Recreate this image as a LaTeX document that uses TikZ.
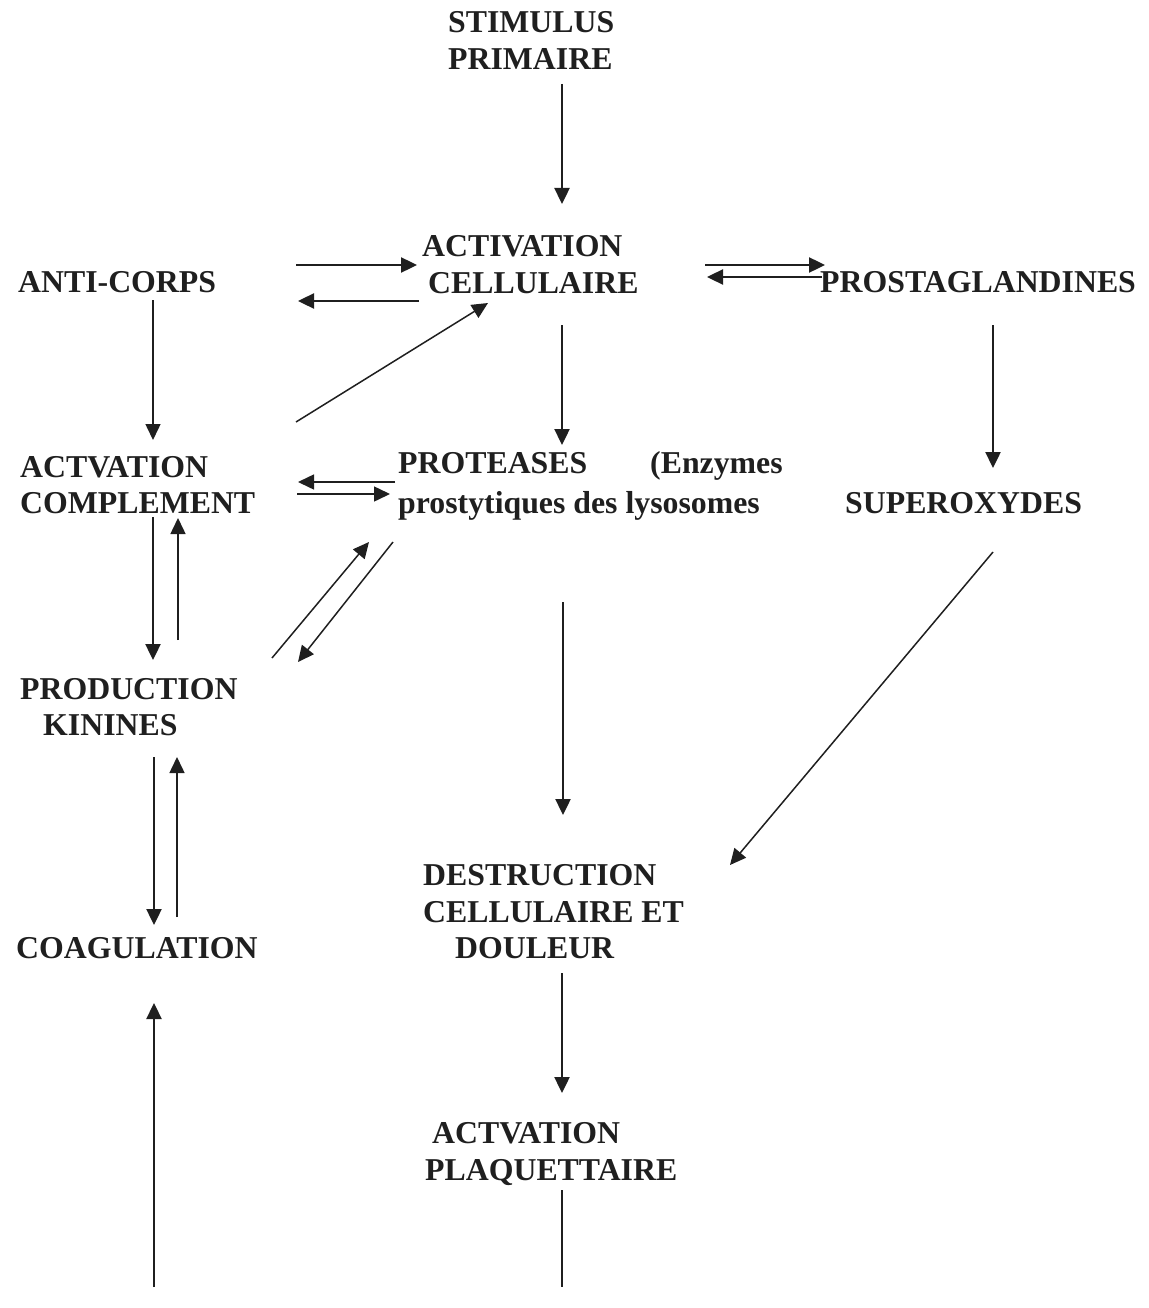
\documentclass[tikz,border=0pt]{standalone}
\usepackage{fontspec}
\setmainfont{Liberation Serif}
\usetikzlibrary{arrows.meta}
\begin{document}
\begin{tikzpicture}[x=1pt,y=-1pt,
  lbl/.style={anchor=base west,inner sep=0pt,font=\fontsize{31.8}{37}\selectfont\bfseries,text=black!88},
  thk/.style={line width=2.4pt,draw=black!88,-{Triangle[length=16pt,width=15pt]}},
  thn/.style={line width=1.5pt,draw=black!88,-{Triangle[length=16pt,width=15pt]}},
  plain/.style={line width=2.4pt,draw=black!88}]
\useasboundingbox (0,0) rectangle (1148,1308);
% text lines
\node[lbl] (stimA) at (448,33) {STIMULUS};
\node[lbl] (stimB) at (448,70) {PRIMAIRE};
\node[lbl] (actA) at (422,256) {ACTIVATION};
\node[lbl] (actB) at (428,293) {CELLULAIRE};
\node[lbl] (anti) at (18,292) {ANTI-CORPS};
\node[lbl] (prost) at (820,292) {PROSTAGLANDINES};
\node[lbl] (compA) at (20,477) {ACTVATION};
\node[lbl] (compB) at (20,513) {COMPLEMENT};
\node[lbl] (protA) at (398,473) {PROTEASES};
\node[lbl] (protC) at (650,473) {(Enzymes};
\node[lbl] (protB) at (398,513) {prostytiques des lysosomes};
\node[lbl] (sup) at (845,513) {SUPEROXYDES};
\node[lbl] (kinA) at (20,699) {PRODUCTION};
\node[lbl] (kinB) at (43,735) {KININES};
\node[lbl] (coag) at (16,958) {COAGULATION};
\node[lbl] (desA) at (423,885) {DESTRUCTION};
\node[lbl] (desB) at (423,922) {CELLULAIRE ET};
\node[lbl] (desC) at (455,958) {DOULEUR};
\node[lbl] (plaA) at (432,1143) {ACTVATION};
\node[lbl] (plaB) at (425,1180) {PLAQUETTAIRE};
% connector end points
\coordinate (stimOut) at (562,84);   \coordinate (actTop) at (562,204);
\coordinate (antiR1) at (296,265);   \coordinate (actL1) at (417,265);
\coordinate (actL2) at (419,301);    \coordinate (antiR2) at (298,301);
\coordinate (actR1) at (705,265);    \coordinate (prostL1) at (825,265);
\coordinate (prostL2) at (822,277);  \coordinate (actR2) at (707,277);
\coordinate (antiOut) at (153,300);  \coordinate (compTop) at (153,440);
\coordinate (compNE) at (296,422);   \coordinate (actSW) at (488,303);
\coordinate (actOut) at (562,325);   \coordinate (protTop) at (562,445);
\coordinate (prostOut) at (993,325); \coordinate (supTop) at (993,468);
\coordinate (protL1) at (395,482);   \coordinate (compR1) at (298,482);
\coordinate (compR2) at (297,494);   \coordinate (protL2) at (390,494);
\coordinate (compOut) at (153,517);  \coordinate (kinTop) at (153,660);
\coordinate (kinUp) at (178,640);    \coordinate (compIn) at (178,518);
\coordinate (kinNE1) at (272,658);   \coordinate (protSW1) at (369,542);
\coordinate (protSW2) at (393,542);  \coordinate (kinNE2) at (298,662);
\coordinate (protOut) at (563,602);  \coordinate (desTop) at (563,815);
\coordinate (supOut) at (993,552);   \coordinate (desNE) at (730,865);
\coordinate (kinOut) at (154,757);   \coordinate (coagTop) at (154,925);
\coordinate (coagUp) at (177,917);   \coordinate (kinIn) at (177,757);
\coordinate (botL) at (154,1287);    \coordinate (coagBot) at (154,1003);
\coordinate (desOut) at (562,973);   \coordinate (plaTop) at (562,1093);
\coordinate (plaOut) at (562,1190);  \coordinate (botR) at (562,1287);
% connectors
\draw[thk] (stimOut) -- (actTop);
\draw[thk] (antiR1) -- (actL1);
\draw[thk] (actL2) -- (antiR2);
\draw[thk] (actR1) -- (prostL1);
\draw[thk] (prostL2) -- (actR2);
\draw[thn] (antiOut) -- (compTop);
\draw[thn] (compNE) -- (actSW);
\draw[thk] (actOut) -- (protTop);
\draw[thk] (prostOut) -- (supTop);
\draw[thn] (protL1) -- (compR1);
\draw[thn] (compR2) -- (protL2);
\draw[thk] (compOut) -- (kinTop);
\draw[thn] (kinUp) -- (compIn);
\draw[thn] (kinNE1) -- (protSW1);
\draw[thn] (protSW2) -- (kinNE2);
\draw[thk] (protOut) -- (desTop);
\draw[thn] (supOut) -- (desNE);
\draw[thk] (kinOut) -- (coagTop);
\draw[thn] (coagUp) -- (kinIn);
\draw[thk] (botL) -- (coagBot);
\draw[thk] (desOut) -- (plaTop);
\draw[plain] (plaOut) -- (botR);
\end{tikzpicture}
\end{document}
